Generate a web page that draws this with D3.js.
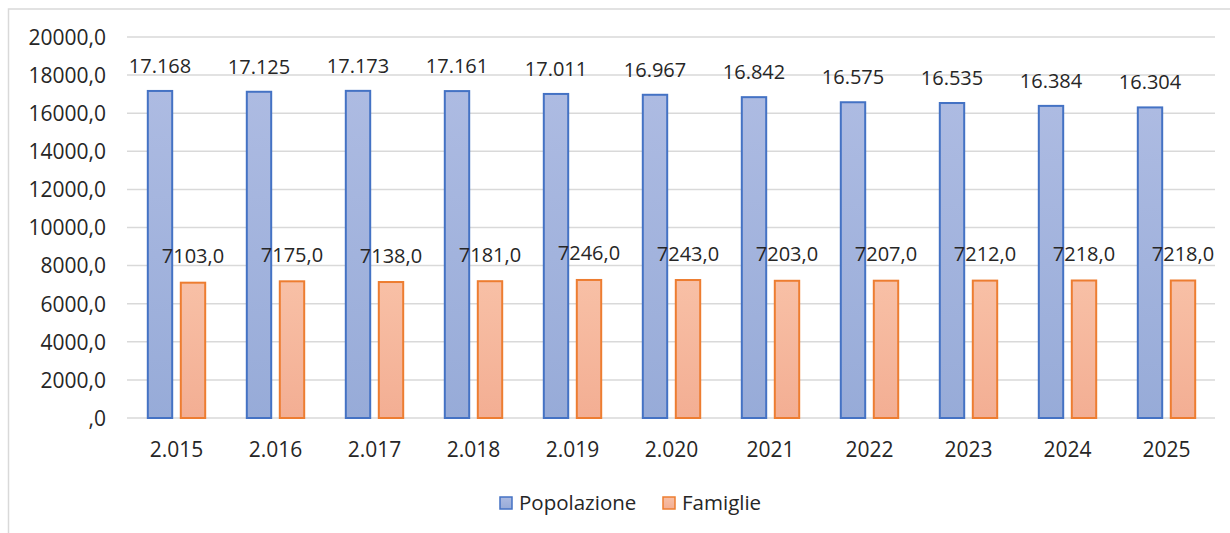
<!DOCTYPE html>
<html>
<head>
<meta charset="utf-8">
<script src="https://cdn.jsdelivr.net/npm/d3@7"></script>
<style>
  body { margin: 0; background: #fff; }
  svg { display: block; }
  text { font-family: "Open Sans", "Noto Sans", sans-serif; fill: #262626; }
</style>
</head>
<body>
<svg id="chart" width="1230" height="533"></svg>
<script>
// data
let years = ['2.015', '2.016', '2.017', '2.018', '2.019', '2.020', '2021', '2022', '2023', '2024', '2025'];
let popolazione = [17168, 17125, 17173, 17161, 17011, 16967, 16842, 16575, 16535, 16384, 16304];
let famiglie = [7103, 7175, 7138, 7181, 7246, 7243, 7203, 7207, 7212, 7218, 7218];
let seriesNames = ['Popolazione', 'Famiglie'];
let yTicks = [0, 2000, 4000, 6000, 8000, 10000, 12000, 14000, 16000, 18000, 20000];

let svg = d3.select('#chart');

let colors = {
  Popolazione: { stroke: '#4472c4', top: '#adbbe2', bottom: '#97abd8' },
  Famiglie: { stroke: '#ed7d31', top: '#f8c0a6', bottom: '#f3ae93' }
};

// gradients
let defs = svg.append('defs');
seriesNames.forEach(function(s, i) {
  let g = defs.append('linearGradient')
    .attr('id', 'grad' + i)
    .attr('x1', 0).attr('y1', 0).attr('x2', 0).attr('y2', 1);
  g.append('stop').attr('offset', '0%').attr('stop-color', colors[s].top);
  g.append('stop').attr('offset', '100%').attr('stop-color', colors[s].bottom);
});

// chart border (cropped)
svg.append('rect')
  .attr('x', 8.5).attr('y', 9)
  .attr('width', 1400).attr('height', 700)
  .attr('fill', 'none')
  .attr('stroke', '#d9d9d9')
  .attr('stroke-width', 1.5);

let x0 = d3.scaleBand()
  .domain(years)
  .range([127, 1216])
  .paddingInner(0.4)
  .paddingOuter(0.2);

let x1 = d3.scaleBand()
  .domain(seriesNames)
  .range([0, x0.bandwidth()])
  .paddingInner(0.2);

let y = d3.scaleLinear()
  .domain([0, 20000])
  .range([418, 37]);

// gridlines
svg.append('g')
  .selectAll('line')
  .data(yTicks)
  .enter()
  .append('line')
  .attr('x1', 127)
  .attr('x2', 1215)
  .attr('y1', function(d) { return y(d) })
  .attr('y2', function(d) { return y(d) })
  .attr('stroke', '#d9d9d9')
  .attr('stroke-width', 1.5);

// y axis labels
let yAxis = d3.axisLeft(y)
  .tickValues(yTicks)
  .tickSize(0)
  .tickPadding(0)
  .tickFormat(function(d) { return d === 0 ? ',0' : d + ',0' });

let yg = svg.append('g')
  .attr('transform', 'translate(106,0)')
  .call(yAxis);
yg.select('.domain').remove();
yg.selectAll('text')
  .attr('font-size', 21)
  .attr('dy', '0.35em')
  .attr('fill', '#262626');

// x axis labels
let xAxis = d3.axisBottom(x0).tickSize(0).tickPadding(0);
let xg = svg.append('g')
  .attr('transform', 'translate(0,457)')
  .call(xAxis);
xg.select('.domain').remove();
xg.selectAll('text')
  .attr('font-size', 21)
  .attr('dy', 0)
  .attr('y', 0)
  .attr('fill', '#262626');

// bars
let rows = years.map(function(yr, i) {
  return { year: yr, values: [
    { name: 'Popolazione', value: popolazione[i] },
    { name: 'Famiglie', value: famiglie[i] }
  ] };
});

let groups = svg.append('g')
  .selectAll('g')
  .data(rows)
  .enter()
  .append('g')
  .attr('transform', function(d) { return 'translate(' + x0(d.year) + ',0)' });

groups.selectAll('rect')
  .data(function(d) { return d.values })
  .enter()
  .append('rect')
  .attr('x', function(d) { return x1(d.name) + 1 })
  .attr('y', function(d) { return y(d.value) })
  .attr('width', x1.bandwidth() - 2)
  .attr('height', function(d) { return y(0) - y(d.value) })
  .attr('fill', function(d, i) { return 'url(#grad' + seriesNames.indexOf(d.name) + ')' })
  .attr('stroke', function(d) { return colors[d.name].stroke })
  .attr('stroke-width', 2);

// data labels
let fmtPop = function(v) { return d3.format(',')(v).replace(/,/g, '.') };
let fmtFam = function(v) { return v + ',0' };

groups.selectAll('text.lbl')
  .data(function(d) { return d.values })
  .enter()
  .append('text')
  .attr('class', 'lbl')
  .attr('text-anchor', 'middle')
  .attr('font-size', 20)
  .attr('x', function(d) { return x1(d.name) + x1.bandwidth() / 2 })
  .attr('y', function(d) {
    return y(d.value) - (d.name === 'Popolazione' ? 18 : 19.5)
  })
  .text(function(d) {
    return d.name === 'Popolazione' ? fmtPop(d.value) : fmtFam(d.value)
  });

// legend
let legendX = [499, 662];
let legend = svg.append('g')
  .selectAll('g')
  .data(seriesNames)
  .enter()
  .append('g')
  .attr('transform', function(d, i) { return 'translate(' + legendX[i] + ',496)' });

legend.append('rect')
  .attr('x', 1).attr('y', 1)
  .attr('width', 12).attr('height', 12)
  .attr('fill', function(d, i) { return 'url(#grad' + i + ')' })
  .attr('stroke', function(d) { return colors[d].stroke })
  .attr('stroke-width', 1.5);

legend.append('text')
  .attr('x', 20)
  .attr('y', 13.5)
  .attr('font-size', 20.5)
  .text(function(d) { return d });
</script>
</body>
</html>
